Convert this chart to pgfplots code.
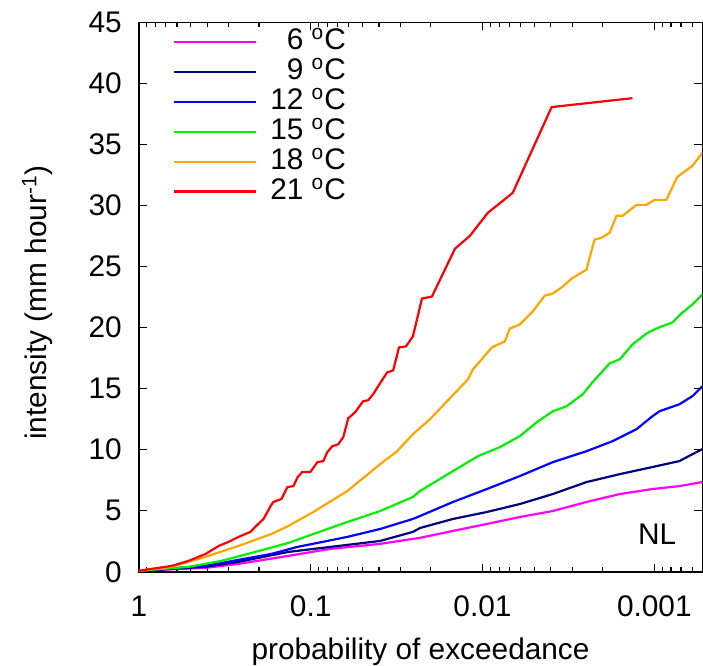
\documentclass[border=0pt]{standalone}
\usepackage{fontspec}
\setmainfont{Liberation Sans}
\usepackage{pgfplots}
\pgfplotsset{compat=1.18}
\definecolor{cSix}{HTML}{FF00FF}
\definecolor{cNine}{HTML}{000080}
\definecolor{cTwelve}{HTML}{0000FF}
\definecolor{cFifteen}{HTML}{00F000}
\definecolor{cEighteen}{HTML}{FFA500}
\definecolor{cTwentyone}{HTML}{FF0000}

\begin{document}
\begin{tikzpicture}
\begin{axis}[
  scale only axis,
  width=282.5bp, height=275.5bp,
  xmode=log, x dir=reverse,
  xmin=5.26e-4, xmax=1,
  ymin=0, ymax=45,
  ytick={0,5,...,45},
  xtick={1,0.1,0.01,0.001},
  xticklabels={1,0.1,0.01,0.001},
  minor xtick={0.9,0.8,0.7,0.6,0.5,0.4,0.3,0.2,
               0.09,0.08,0.07,0.06,0.05,0.04,0.03,0.02,
               0.009,0.008,0.007,0.006,0.005,0.004,0.003,0.002,
               0.0009,0.0008,0.0007,0.0006},
  tick align=inside,
  major tick length=4bp, minor tick length=2.5bp,
  every tick/.style={black, line width=0.6bp},
  axis line style={line width=0.75bp},
  font=\fontsize{15}{18}\selectfont,
  /pgf/number format/assume math mode=true,
  yticklabel style={xshift=-5bp},
  xticklabel style={yshift=-8.5bp},
  xlabel={probability of exceedance},
  ylabel={intensity (mm hour\textsuperscript{-1})},
  xlabel style={at={(axis description cs:0.5,-0.146)}, anchor=center, inner sep=0pt},
  ylabel style={at={(axis description cs:-0.18,0.49)}, anchor=center, inner sep=11bp},
  legend cell align=right,
  legend style={draw=none, fill=none, at={(rel axis cs:0.05,0.994)}, anchor=north west,
    nodes={inner sep=0pt, text height=10bp, text depth=2bp},
    row sep=3bp,
    /tikz/every odd column/.append style={column sep=6.5bp}},
  legend image code/.code={\draw[#1] (0bp,0bp) -- (41bp,0bp);},
  every axis plot/.append style={line width=1.1bp},
]
\addplot[cSix] coordinates {
(1,0.08) (0.408,0.33) (0.263,0.65) (0.1347,1.31) (0.0768,1.88) (0.0394,2.29)
(0.0254,2.70) (0.0231,2.78) (0.01485,3.35) (0.00943,3.92) (0.00607,4.49)
(0.00390,4.98) (0.00248,5.72) (0.00159,6.37) (0.001026,6.78) (0.000715,7.02)
(0.000526,7.35)
};
\addlegendentry{6 \textsuperscript{o}C}
\addplot[cNine] coordinates {
(1,0.08) (0.408,0.41) (0.263,0.82) (0.1347,1.63) (0.0768,2.04) (0.0394,2.53)
(0.0254,3.27) (0.0231,3.59) (0.01485,4.33) (0.00943,4.90) (0.00607,5.55)
(0.00390,6.37) (0.00248,7.35) (0.00159,8.00) (0.001026,8.58) (0.000715,9.07)
(0.000526,10.05)
};
\addlegendentry{9 \textsuperscript{o}C}
\addplot[cTwelve] coordinates {
(1,0.08) (0.408,0.49) (0.263,0.98) (0.169,1.47) (0.1194,2.04) (0.0612,2.86)
(0.0394,3.51) (0.0254,4.33) (0.0231,4.57) (0.01485,5.72) (0.00943,6.78)
(0.00607,7.84) (0.00390,8.98) (0.00248,9.88) (0.00175,10.70) (0.00127,11.68)
(0.001026,12.74) (0.000934,13.15) (0.000715,13.72) (0.000601,14.38) (0.000526,15.19)
};
\addlegendentry{12 \textsuperscript{o}C}
\addplot[cFifteen] coordinates {
(1,0.08) (0.513,0.41) (0.330,0.90) (0.210,1.63) (0.1347,2.37) (0.0964,3.10)
(0.0612,4.08) (0.0394,4.98) (0.0254,6.13) (0.0231,6.62) (0.01485,8.25)
(0.01063,9.47) (0.00792,10.21) (0.00607,11.11) (0.00483,12.25) (0.00390,13.15)
(0.00324,13.56) (0.00261,14.54) (0.00229,15.52) (0.00182,17.07) (0.00159,17.40)
(0.00134,18.62) (0.00111,19.52) (0.000972,19.93) (0.000785,20.42) (0.000696,21.15)
(0.000601,21.89) (0.000526,22.71)
};
\addlegendentry{15 \textsuperscript{o}C}
\addplot[cEighteen] coordinates {
(1,0.08) (0.643,0.41) (0.408,1.23) (0.263,2.12) (0.169,3.10) (0.1347,3.76)
(0.0964,4.90) (0.0612,6.62) (0.0394,8.82) (0.0314,9.88) (0.0254,11.27)
(0.0202,12.50) (0.01216,15.76) (0.01137,16.58) (0.01035,17.23) (0.00882,18.38)
(0.00741,18.87) (0.00693,19.93) (0.00607,20.25) (0.00510,21.32) (0.00434,22.62)
(0.00390,22.79) (0.00341,23.36) (0.00303,24.01) (0.00248,24.75) (0.00223,27.20)
(0.00203,27.36) (0.00182,27.77) (0.00166,29.16) (0.00153,29.16) (0.00127,30.05)
(0.00111,30.05) (0.000999,30.46) (0.000851,30.46) (0.000735,32.34) (0.000601,33.24)
(0.000526,34.30)
};
\addlegendentry{18 \textsuperscript{o}C}
\addplot[cTwentyone] coordinates {
(1,0.08) (0.766,0.33) (0.643,0.49) (0.513,0.90) (0.408,1.47) (0.343,2.12)
(0.301,2.45) (0.263,2.86) (0.224,3.27) (0.210,3.68) (0.188,4.33) (0.171,5.39)
(0.165,5.72) (0.148,5.96) (0.1365,6.94) (0.126,7.02) (0.119,7.76) (0.112,8.17)
(0.1004,8.17) (0.0914,8.98) (0.0844,9.07) (0.080,9.80) (0.0748,10.29) (0.069,10.45)
(0.0646,11.03) (0.0604,12.58) (0.0551,13.07) (0.0495,13.97) (0.0463,14.05)
(0.0433,14.54) (0.0405,15.19) (0.0359,16.33) (0.0331,16.50) (0.0306,18.38)
(0.0279,18.46) (0.0254,19.28) (0.0225,22.38) (0.0197,22.54) (0.01446,26.46)
(0.01183,27.52) (0.00931,29.40) (0.00667,31.03) (0.00396,38.06) (0.00134,38.79)
};
\addlegendentry{21 \textsuperscript{o}C}
\node[font=\fontsize{15}{18}\selectfont] at (rel axis cs:0.92,0.069) {NL};
\end{axis}
% room above the frame, as in the reference
\path ([yshift=11.2bp]current axis.north);
\end{tikzpicture}
\end{document}
